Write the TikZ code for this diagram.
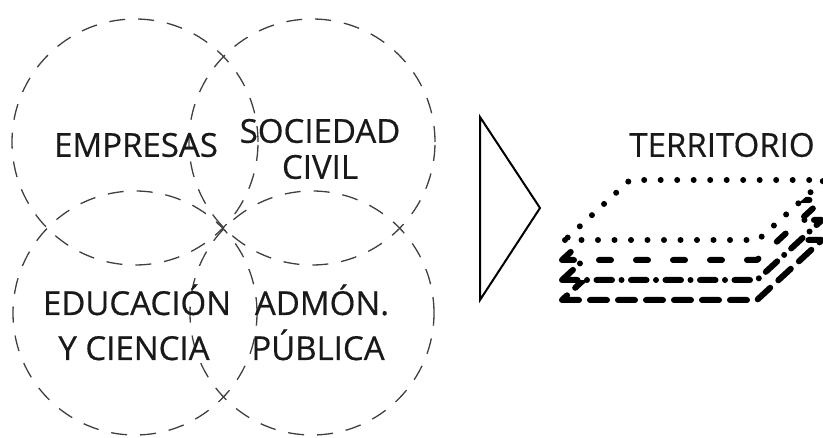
\documentclass[tikz,border=0pt]{standalone}
\usepackage{fontspec}
\newfontfamily\lblfont{Open Sans}[FakeBold=0.5]
\begin{document}
\begin{tikzpicture}[x=1pt,y=-1pt,
  ring/.style={draw=black!75,line width=1.3pt,dash pattern=on 16pt off 13pt},
  lbl/.style={font=\lblfont\fontsize{33}{36}\selectfont,inner sep=0pt,text=black!90,align=center},
  layer/.style={fill=white,line width=6pt,line cap=round,line join=round},
  dotl/.style={layer,dash pattern=on 0pt off 16.5pt},
  dashl/.style={layer,dash pattern=on 12pt off 25pt},
  dashdotl/.style={layer,dash pattern=on 15.5pt off 9.5pt on 0pt off 9.5pt},
  longdashl/.style={layer,dash pattern=on 17pt off 11pt},
  arrowtri/.style={draw=black,line width=2pt,line join=miter}]
\useasboundingbox (0,0) rectangle (823,438);
% circles
\node[ring,circle,minimum size=246pt,inner sep=0pt] (c1) at (135,142) {};
\node[ring,circle,minimum size=246pt,inner sep=0pt] (c2) at (312,142) {};
\node[ring,circle,minimum size=244pt,inner sep=0pt] (c3) at (135,313) {};
\node[ring,circle,minimum size=244pt,inner sep=0pt] (c4) at (312,313) {};
% labels
\node[lbl] (t1) at (136,145) {EMPRESAS};
\node[lbl] (t2) at (320,149) {SOCIEDAD\\CIVIL};
\node[lbl,anchor=base] (t3) at (137,315) {EDUCACIÓN};
\node[lbl,anchor=base] (t3b) at (134,360) {Y CIENCIA};
\node[lbl,anchor=base] (t4) at (322,315) {ADMÓN.};
\node[lbl,anchor=base] (t4b) at (318,360) {PÚBLICA};
% triangle
\coordinate (ta) at (480,117);
\coordinate (tb) at (540,208);
\coordinate (tc) at (480,300);
\draw[arrowtri] (ta) -- (tb) -- (tc) -- cycle;
% territorio
\node[lbl] (ter) at (722,145) {TERRITORIO};
\begin{scope}
\clip (0,0) rectangle (823,438);
\draw[longdashl] (562,300) -- (757,300) -- (822,240) -- (627,240) -- cycle;
\draw[dashdotl] (562,280) -- (757,280) -- (822,220) -- (627,220) -- cycle;
\draw[dashl] (562,260) -- (757,260) -- (822,200) -- (627,200) -- cycle;
\draw[dotl] (565,240) -- (758,240) -- (824,180) -- (630,180) -- cycle;
\end{scope}
\end{tikzpicture}
\end{document}
